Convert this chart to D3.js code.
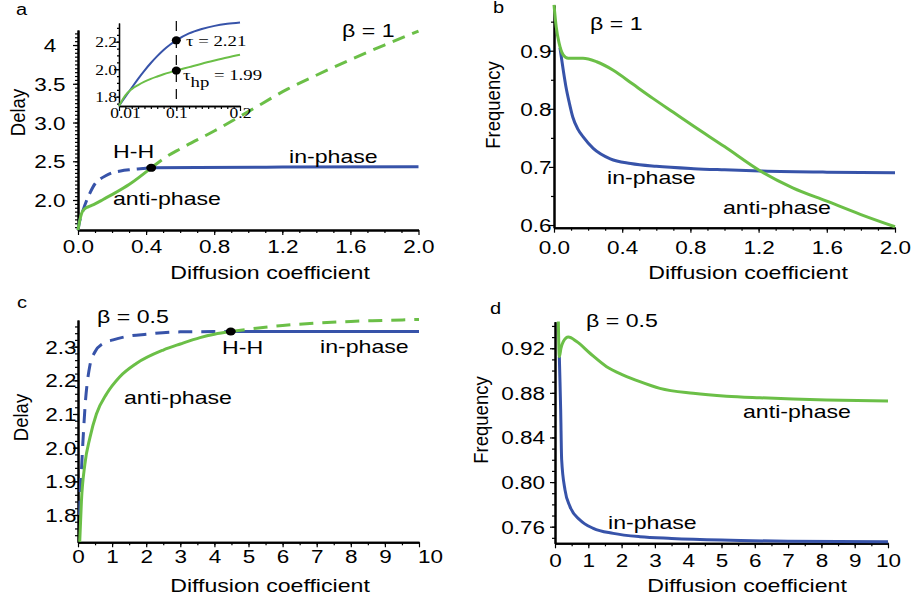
<!DOCTYPE html>
<html>
<head>
<meta charset="utf-8">
<script src="https://cdn.jsdelivr.net/npm/d3@7"></script>
<style>
  body { margin: 0; background: #fff; }
  svg { display: block; }
</style>
</head>
<body>
<div id="container"></div>
<script>
/* DATA */
// a : beta = 1, delay
const aInUnstable = [[0,1.613],[0.01,1.73],[0.02,1.80],[0.03,1.87],[0.05,1.99],[0.07,2.09],[0.1,2.21],[0.13,2.27],[0.16,2.31],[0.2,2.35],[0.25,2.375],[0.3,2.39],[0.35,2.40],[0.43,2.415]];
const aInStable = [[0.43,2.415],[0.7,2.42],[1.2,2.425],[2.0,2.43]];
const aAntiStable = [[0,1.613],[0.01,1.733],[0.02,1.82],[0.03,1.865],[0.045,1.895],[0.07,1.92],[0.1,1.95],[0.15,2.01],[0.2,2.07],[0.3,2.20],[0.43,2.415]];
const aAntiUnstable = [[0.43,2.415],[0.52,2.56],[0.6,2.66],[0.8,2.89],[1.0,3.14],[1.23,3.43],[1.4,3.61],[1.62,3.83],[1.8,4.0],[2.0,4.18]];
const aHH = [0.43, 2.415];

// inset of a
const insetIn = [[0.01,1.733],[0.02,1.80],[0.03,1.865],[0.04,1.93],[0.05,1.99],[0.06,2.045],[0.07,2.095],[0.08,2.14],[0.09,2.178],[0.1,2.21],[0.12,2.26],[0.14,2.292],[0.16,2.315],[0.18,2.33],[0.2,2.34]];
const insetAnti = [[0.01,1.733],[0.02,1.81],[0.03,1.855],[0.04,1.885],[0.05,1.91],[0.06,1.93],[0.07,1.947],[0.08,1.963],[0.09,1.977],[0.1,1.99],[0.12,2.015],[0.14,2.04],[0.16,2.063],[0.18,2.085],[0.2,2.105]];
const insetDots = [[0.1,2.21],[0.1,1.99]];

// b : beta = 1, frequency
const bIn = [[0.035,0.905],[0.055,0.865],[0.07,0.838],[0.09,0.81],[0.11,0.786],[0.14,0.765],[0.17,0.752],[0.23,0.732],[0.33,0.714],[0.45,0.706],[0.6,0.701],[0.82,0.697],[1.0,0.695],[1.21,0.693],[1.6,0.691],[2.0,0.69]];
const bAnti = [[0,0.979],[0.013,0.941],[0.03,0.913],[0.054,0.893],[0.083,0.887],[0.17,0.887],[0.25,0.881],[0.35,0.866],[0.46,0.843],[0.58,0.818],[0.7,0.794],[0.82,0.770],[1.0,0.735],[1.21,0.693],[1.4,0.664],[1.6,0.641],[1.8,0.618],[2.0,0.597]];

// c : beta = 0.5, delay
const cInUnstable = [[0.05,1.80],[0.06,1.85],[0.1,1.93],[0.14,2.01],[0.18,2.08],[0.22,2.14],[0.28,2.20],[0.35,2.245],[0.5,2.285],[0.74,2.31],[1.03,2.32],[1.42,2.33],[2.0,2.337],[3.0,2.344],[4.48,2.345]];
const cInStable = [[4.48,2.345],[10,2.345]];
const cAntiStable = [[0.05,1.72],[0.1,1.84],[0.2,1.95],[0.35,2.03],[0.54,2.10],[0.84,2.16],[1.22,2.21],[1.71,2.25],[2.5,2.29],[3.0,2.308],[3.58,2.327],[4.0,2.337],[4.48,2.345]];
const cAntiUnstable = [[4.48,2.345],[5,2.352],[6,2.363],[7,2.37],[8,2.375],[9,2.378],[10,2.381]];
const cHH = [4.48, 2.345];

// d : beta = 0.5, frequency
const dIn = [[0.13,0.9125],[0.15,0.89],[0.17,0.865],[0.2,0.82],[0.3,0.793],[0.45,0.778],[0.75,0.766],[1.15,0.7585],[1.75,0.754],[2.55,0.751],[3.5,0.7495],[5,0.748],[7,0.747],[10,0.7465]];
const dAnti = [[0.1,0.944],[0.13,0.9125],[0.18,0.92],[0.25,0.926],[0.4,0.930],[0.65,0.926],[1.05,0.9155],[1.55,0.9035],[2.05,0.896],[2.55,0.890],[3.15,0.884],[4.15,0.8796],[5.15,0.877],[6.15,0.8756],[7.15,0.8745],[8.15,0.8737],[10,0.8728]];

// ticks
const ticks02 = [0, 0.4, 0.8, 1.2, 1.6, 2.0];
const ticks02Labels = ["0.0", "0.4", "0.8", "1.2", "1.6", "2.0"];
const ticks10 = [0,1,2,3,4,5,6,7,8,9,10];
const aYTicks = [2.0, 2.5, 3.0, 3.5, 4.0];
const aYLabels = ["2.0", "2.5", "3.0", "3.5", "4"];
const bYTicks = [0.6, 0.7, 0.8, 0.9];
const cYTicks = [1.8, 1.9, 2.0, 2.1, 2.2, 2.3];
const dYTicks = [0.76, 0.80, 0.84, 0.88, 0.92];
const insetXTicks = [0.01, 0.1, 0.2];
const insetXLabels = ["0.01", "0.1", "0.2"];
const insetYTicks = [1.8, 2.0, 2.2];

/* SETUP */
const BLUE = "#3753a9";
const GREEN = "#6bbf47";
const FONT = "'Liberation Sans', Arial, sans-serif";
const SERIF = "'Liberation Serif', 'Times New Roman', serif";
const SX = 1.25; // the source figure is stretched horizontally

const svg = d3.select("#container")
  .append("svg")
  .attr("width", 915)
  .attr("height", 603)
  .attr("font-family", FONT);

function label(x, y, txt, size, anchor, family) {
  return svg.append("text")
    .attr("transform", `translate(${x},${y}) scale(${SX},1)`)
    .attr("font-size", size)
    .attr("font-family", family || FONT)
    .attr("text-anchor", anchor || "start")
    .text(txt);
}

function vlabel(x, y, txt) {
  svg.append("text")
    .attr("transform", `translate(${x},${y}) scale(1.1,1) rotate(-90)`)
    .attr("font-size", 18.5)
    .attr("text-anchor", "middle")
    .text(txt);
}

function panel(o) {
  const x = d3.scaleLinear().domain(o.xd).range(o.xr);
  const y = d3.scaleLinear().domain(o.yd).range(o.yr);
  const x0 = o.xr[0], y0 = o.yr[0];
  const g = svg.append("g");

  g.append("g").attr("transform", `translate(0,${y0})`)
    .call(d3.axisBottom(x).tickValues(o.xMinor).tickFormat("").tickSize(3).tickSizeOuter(0));
  g.append("g").attr("transform", `translate(${x0},0)`)
    .call(d3.axisLeft(y).tickValues(o.yMinor).tickFormat("").tickSize(o.minorLen || 3).tickSizeOuter(0));

  const xa = g.append("g").attr("transform", `translate(0,${y0})`)
    .call(d3.axisBottom(x).tickValues(o.xTicks).tickFormat((d, i) => o.xLabels[i]).tickSize(5).tickSizeOuter(0));
  xa.selectAll("text")
    .attr("y", null).attr("dy", null)
    .attr("transform", (d, i) => `translate(${(o.xShift && o.xShift[i]) || 0},${o.xLabY}) scale(${SX},1)`);

  const ya = g.append("g").attr("transform", `translate(${x0},0)`)
    .call(d3.axisLeft(y).tickValues(o.yTicks).tickFormat((d, i) => o.yLabels[i]).tickSize(5).tickSizeOuter(0));
  ya.selectAll("text")
    .attr("x", null).attr("dy", "0.36em")
    .attr("text-anchor", o.yAnchor)
    .attr("transform", `translate(${o.yLabX - x0},0) scale(${SX},1)`);

  g.selectAll("g").attr("font-family", o.family || FONT).attr("font-size", o.fs || 18);
  g.selectAll(".domain").attr("stroke-width", o.axisW || 2);
  g.selectAll(".tick line").attr("stroke-width", 1.2);
  return { x, y };
}

function curve(p, data, color, dash, w) {
  svg.append("path")
    .datum(data)
    .attr("d", d3.line().x(d => p.x(d[0])).y(d => p.y(d[1])).curve(d3.curveMonotoneX))
    .attr("fill", "none")
    .attr("stroke", color)
    .attr("stroke-width", w || 3)
    .attr("stroke-dasharray", dash || null);
}

function dot(p, d, rx, ry) {
  svg.append("ellipse")
    .attr("cx", p.x(d[0])).attr("cy", p.y(d[1]))
    .attr("rx", rx).attr("ry", ry)
    .attr("fill", "#000");
}

/* PANEL A */
const pa = panel({
  xd: [0, 2], xr: [78, 418.5], yd: [1.613, 4.194], yr: [230, 30],
  xTicks: ticks02, xLabels: ticks02Labels, xMinor: d3.range(0.1, 2, 0.1),
  yTicks: aYTicks, yLabels: aYLabels, yMinor: d3.range(1.65, 4.19, 0.05),
  xLabY: 23, yLabX: 50, yAnchor: "middle"
});
curve(pa, aInUnstable, BLUE, "12,7");
curve(pa, aInStable, BLUE);
curve(pa, aAntiUnstable, GREEN, "13,8");
curve(pa, aAntiStable, GREEN);
dot(pa, aHH, 5, 4);

label(16, 15, "a", 16);
label(342, 37, "β = 1", 18.5);
label(113, 158, "H-H", 18.5);
label(289, 162.5, "in-phase", 18.5);
label(113, 205, "anti-phase", 18.5);
vlabel(25, 112.5, "Delay");
label(270, 279, "Diffusion coefficient", 18.5, "middle");

// inset
const pi = panel({
  xd: [0.01, 0.2], xr: [119, 240], yd: [1.7324, 2.336], yr: [106, 23],
  xTicks: insetXTicks, xLabels: insetXLabels, xMinor: d3.range(0.02, 0.2, 0.01), xShift: [6, 0, 0],
  yTicks: insetYTicks, yLabels: ["1.8", "2.0", "2.2"], yMinor: d3.range(1.75, 2.34, 0.05), minorLen: 2,
  xLabY: 12, yLabX: 117, yAnchor: "end", family: SERIF, fs: 14, axisW: 1.3
});
svg.append("line")
  .attr("x1", pi.x(0.1)).attr("x2", pi.x(0.1))
  .attr("y1", 21).attr("y2", 106)
  .attr("stroke", "#000").attr("stroke-width", 1.2)
  .attr("stroke-dasharray", "10,7");
curve(pi, insetIn, BLUE, null, 2);
curve(pi, insetAnti, GREEN, null, 2);
insetDots.forEach(d => dot(pi, d, 4.5, 4));
label(186, 46, "τ = 2.21", 15, "start", SERIF);
svg.append("text")
  .attr("transform", `translate(183,80) scale(${SX},1)`)
  .attr("font-family", SERIF).attr("font-size", 15)
  .call(t => {
    t.append("tspan").text("τ");
    t.append("tspan").attr("dy", 7).text("hp");
    t.append("tspan").attr("dy", -7).text(" = 1.99");
  });

/* PANEL B */
const pb = panel({
  xd: [0, 2], xr: [554, 895], yd: [0.5954, 0.9787], yr: [227.7, 5],
  xTicks: ticks02, xLabels: ticks02Labels, xMinor: d3.range(0.1, 2, 0.1),
  yTicks: bYTicks, yLabels: ["0.6", "0.7", "0.8", "0.9"], yMinor: [0.65, 0.75, 0.85, 0.95],
  xLabY: 26, yLabX: 551.5, yAnchor: "end"
});
curve(pb, bIn, BLUE);
curve(pb, bAnti, GREEN);
label(493, 13, "b", 16);
label(590, 30, "β = 1", 18.5);
label(607, 183.5, "in-phase", 18.5);
label(723, 214, "anti-phase", 18.5);
vlabel(500, 105, "Frequency");
label(748, 279, "Diffusion coefficient", 18.5, "middle");

/* PANEL C */
const pc = panel({
  xd: [0, 10], xr: [78, 419], yd: [1.7189, 2.3792], yr: [542.3, 320],
  xTicks: ticks10, xLabels: ticks10.map(String), xMinor: d3.range(0.5, 10, 0.5),
  xShift: [0,0,0,0,0,0,0,0,0,0,11],
  yTicks: cYTicks, yLabels: ["1.8", "1.9", "2.0", "2.1", "2.2", "2.3"], yMinor: d3.range(1.74, 2.38, 0.02),
  xLabY: 21, yLabX: 76.5, yAnchor: "end"
});
curve(pc, cInUnstable, BLUE, "14,9");
curve(pc, cInStable, BLUE);
curve(pc, cAntiUnstable, GREEN, "14,9");
curve(pc, cAntiStable, GREEN);
dot(pc, cHH, 5, 4);
label(17, 308, "c", 16);
label(97, 323, "β = 0.5", 18.5);
label(222, 354, "H-H", 18.5);
label(320, 352.5, "in-phase", 18.5);
label(124, 404, "anti-phase", 18.5);
vlabel(28, 417.5, "Delay");
label(270, 591.5, "Diffusion coefficient", 18.5, "middle");

/* PANEL D */
const pd = panel({
  xd: [0, 10], xr: [555, 888], yd: [0.7451, 0.9438], yr: [543.3, 321.7],
  xTicks: ticks10, xLabels: ticks10.map(String), xMinor: d3.range(0.5, 10, 0.5),
  yTicks: dYTicks, yLabels: ["0.76", "0.80", "0.84", "0.88", "0.92"], yMinor: d3.range(0.75, 0.944, 0.01),
  xLabY: 23.5, yLabX: 545, yAnchor: "end"
});
curve(pd, dIn, BLUE);
curve(pd, dAnti, GREEN);
label(490, 314, "d", 16);
label(586, 326.5, "β = 0.5", 18.5);
label(743, 418, "anti-phase", 18.5);
label(608, 529, "in-phase", 18.5);
vlabel(488, 420, "Frequency");
label(747, 591.5, "Diffusion coefficient", 18.5, "middle");
</script>
</body>
</html>
